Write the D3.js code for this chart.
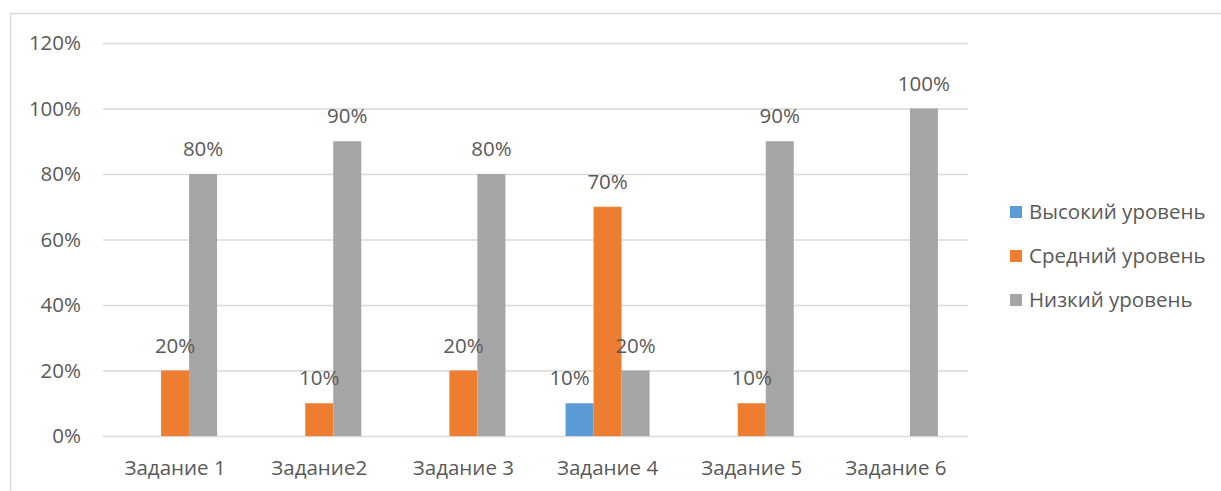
<html>
<head>
<meta charset="utf-8">
<style>
  body { margin: 0; background: #fff; }
  text { font-family: "Open Sans", sans-serif; fill: #595959; }
  .grid line { stroke: #d9d9d9; stroke-width: 1.3; }
  .grid .domain { display: none; }
</style>
<script src="https://cdn.jsdelivr.net/npm/d3@7"></script>
</head>
<body>
<svg id="chart" width="1221" height="491"></svg>
<script>
// данные с картинки
let categories = ["Задание 1", "Задание2", "Задание 3", "Задание 4", "Задание 5", "Задание 6"]
let seriesNames = ["Высокий уровень", "Средний уровень", "Низкий уровень"]
let high = [null, null, null, 10, null, null]
let middle = [20, 10, 20, 70, 10, null]
let low = [80, 90, 80, 20, 90, 100]
let yTicks = [0, 20, 40, 60, 80, 100, 120]
let colors = ["#5b9bd5", "#ed7d31", "#a5a5a5"]

let values = [high, middle, low]
let svg = d3.select("#chart")
let fs = 20.5

// рамка диаграммы
svg.append("rect")
  .attr("x", 10.5).attr("y", 13.5)
  .attr("width", 1230).attr("height", 500)
  .attr("fill", "none").attr("stroke", "#d9d9d9").attr("stroke-width", 1.5)

let plotLeft = 103, plotRight = 968, plotTop = 43, plotBottom = 436

let x0 = d3.scaleBand().domain(categories).range([plotLeft, plotRight])
let x1 = d3.scaleBand().domain(seriesNames)
  .range([(x0.bandwidth() - 84) / 2, (x0.bandwidth() + 84) / 2])
let y = d3.scaleLinear().domain([0, 120]).range([plotBottom, plotTop])

// сетка
svg.append("g").attr("class", "grid")
  .attr("transform", "translate(" + plotLeft + ",0)")
  .call(d3.axisLeft(y).tickValues(yTicks).tickSize(-(plotRight - plotLeft)).tickFormat(""))

// подписи оси Y
svg.append("g").selectAll("text").data(yTicks).join("text")
  .attr("x", 81).attr("y", d => y(d))
  .attr("dy", "0.35em").attr("text-anchor", "end")
  .attr("font-size", fs)
  .text(d => d + "%")

// подписи категорий
svg.append("g").selectAll("text").data(categories).join("text")
  .attr("x", d => x0(d) + x0.bandwidth() / 2).attr("y", 468)
  .attr("dy", "0.35em").attr("text-anchor", "middle")
  .attr("font-size", fs)
  .text(d => d)

// столбцы
let rows = []
values.forEach((arr, s) => arr.forEach((v, i) => {
  if (v != null) rows.push({cat: categories[i], name: seriesNames[s], s: s, v: v})
}))

svg.append("g").selectAll("rect").data(rows).join("rect")
  .attr("x", d => x0(d.cat) + x1(d.name))
  .attr("y", d => y(d.v))
  .attr("width", x1.bandwidth())
  .attr("height", d => plotBottom - y(d.v))
  .attr("fill", d => colors[d.s])

svg.append("g").selectAll("text").data(rows).join("text")
  .attr("x", d => x0(d.cat) + x1(d.name) + x1.bandwidth() / 2 - (d.s == 0 ? 10 : 0))
  .attr("y", d => y(d.v) - 25)
  .attr("dy", "0.35em").attr("text-anchor", "middle")
  .attr("font-size", fs)
  .text(d => d.v + "%")

// легенда
let legend = svg.append("g").selectAll("g").data(seriesNames).join("g")
  .attr("transform", (d, i) => "translate(1010," + (212 + i * 44) + ")")
legend.append("rect")
  .attr("x", 0).attr("y", -6).attr("width", 12).attr("height", 12)
  .attr("fill", (d, i) => colors[i])
legend.append("text")
  .attr("x", 19).attr("dy", "0.35em")
  .attr("font-size", fs)
  .text(d => d)
</script>
</body>
</html>
